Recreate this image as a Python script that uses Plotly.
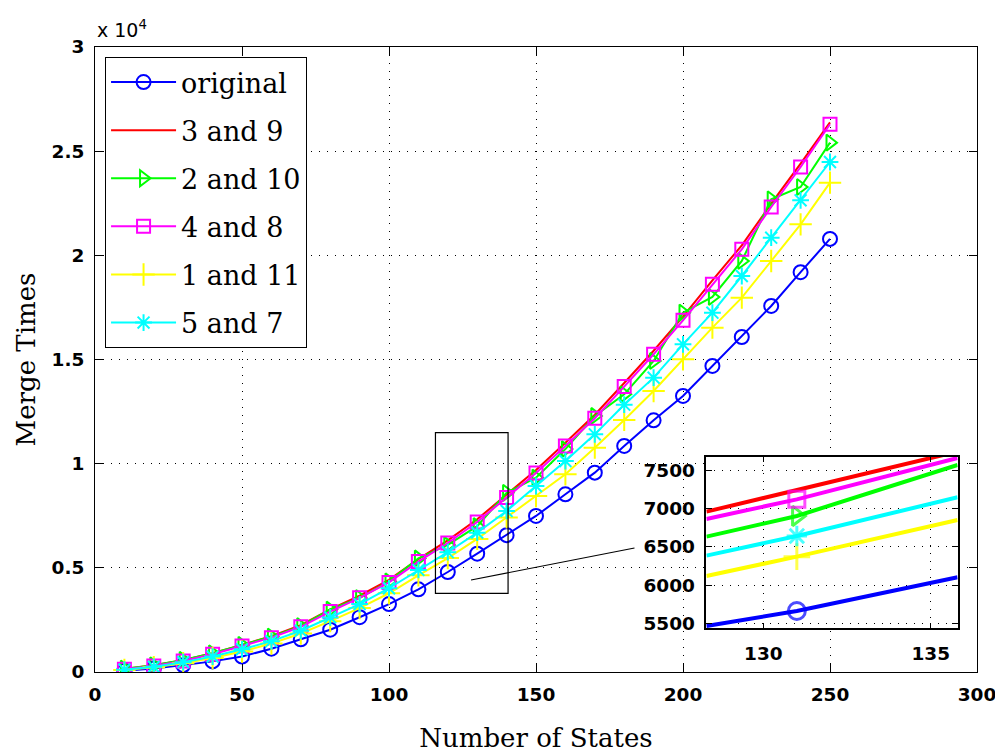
import plotly.graph_objects as go

# ---------------- data ----------------
states = [10, 20, 30, 40, 50, 60, 70, 80, 90, 100, 110, 120, 130, 140, 150,
          160, 170, 180, 190, 200, 210, 220, 230, 240, 250]

original = [60, 170, 330, 510, 740, 1120, 1570, 2030, 2630, 3260, 3970, 4800, 5680,
            6570, 7490, 8530, 9570, 10850, 12080, 13250, 14690, 16080, 17570, 19190, 20790]
s3_9 = [150, 320, 570, 900, 1300, 1720, 2250, 3000, 3670, 4420, 5420, 6320, 7330,
        8520, 9700, 11000, 12350, 13870, 15420, 17060, 18800, 20480, 22480, 24400, 26380]
s2_10 = [160, 320, 580, 900, 1300, 1700, 2200, 3000, 3550, 4350, 5450, 6100, 7000,
         8600, 9330, 10700, 12290, 13330, 14930, 17250, 18000, 19730, 22690, 23280, 25410]
s4_8 = [130, 290, 530, 850, 1250, 1650, 2170, 2900, 3560, 4300, 5300, 6190, 7200,
        8380, 9550, 10850, 12180, 13700, 15250, 16880, 18610, 20290, 22320, 24240, 26290]
s1_11 = [95, 225, 420, 670, 980, 1370, 1850, 2440, 3070, 3780, 4640, 5470, 6390,
         7420, 8448, 9488, 10768, 12100, 13488, 15008, 16528, 17968, 19728, 21488, 23488]
s5_7 = [110, 250, 470, 740, 1090, 1480, 1980, 2620, 3260, 4020, 4900, 5750, 6690,
        7730, 8928, 10128, 11408, 12830, 14128, 15728, 17248, 19008, 20848, 22640, 24480]

names = ["original", "3 and 9", "2 and 10", "4 and 8", "1 and 11", "5 and 7"]
series = [original, s3_9, s2_10, s4_8, s1_11, s5_7]

y_tickvals = [0, 5000, 10000, 15000, 20000, 25000, 30000]
y_ticktext = ["0", "0.5", "1", "1.5", "2", "2.5", "3"]
x_tickvals = [0, 50, 100, 150, 200, 250, 300]

# zoomed inset
inset_x = [128.3, 131, 135.8]
inset_original = [5465, 5661, 6103]
inset_3_9 = [6963, 7247, 7750]
inset_2_10 = [6635, 6906, 7574]
inset_4_8 = [6867, 7124, 7665]
inset_1_11 = [6120, 6373, 6854]
inset_5_7 = [6386, 6644, 7151]
inset_series = [inset_original, inset_3_9, inset_2_10, inset_4_8, inset_1_11, inset_5_7]
inset_yticks = [5500, 6000, 6500, 7000, 7500]
inset_xticks = [130, 135]

# ---------------- styles ----------------
colors = ["#0000FF", "#FF0000", "#00FF00", "#FF00FF", "#FFFF00", "#00FFFF"]
symbols = ["circle-open", None, "triangle-right-open", "square-open",
           "cross-thin-open", "asterisk-open"]
sizes = [14, 0, 14, 13, 16, 14]

fig = go.Figure()

for name, ys, c, sym, sz in zip(names, series, colors, symbols, sizes):
    mode = "lines" if sym is None else "lines+markers"
    marker = dict(color=c, size=sz, line=dict(color=c, width=2))
    if sym is not None:
        marker["symbol"] = sym
    fig.add_trace(go.Scatter(
        x=states, y=ys, name=name, mode=mode, legendgroup=name,
        line=dict(color=c, width=2), marker=marker,
        xaxis="x", yaxis="y"))

for name, ys, c, sym, sz in zip(names, inset_series, colors, symbols, sizes):
    mode = "lines" if sym is None else "lines+markers"
    marker = dict(color=c, size=[0, sz + 3, 0], line=dict(color=c, width=3))
    if sym is not None:
        marker["symbol"] = sym
    fig.add_trace(go.Scatter(
        x=inset_x, y=ys, name=name, mode=mode, showlegend=False,
        line=dict(color=c, width=4), marker=marker,
        xaxis="x2", yaxis="y2"))

tickfont = dict(family="DejaVu Sans", size=18.5, color="black", weight="bold")
titlefont = dict(family="DejaVu Serif", size=26, color="black")
grid = dict(showgrid=True, gridcolor="black", gridwidth=1, griddash="1px,7px")

fig.update_layout(
    width=995, height=753,
    margin=dict(l=95, r=18, t=47, b=81, autoexpand=False),
    paper_bgcolor="white", plot_bgcolor="white",
    xaxis=dict(domain=[0, 1], range=[0, 300], tickvals=x_tickvals,
               ticks="inside", ticklen=8, tickcolor="black",
               showline=True, linecolor="black", linewidth=1, mirror="ticks",
               zeroline=False, tickfont=tickfont, ticklabelstandoff=6,
               ticklabeloverflow="allow", automargin=False,
               title=dict(text="Number of States", font=titlefont, standoff=26),
               **grid),
    yaxis=dict(domain=[0, 1], range=[0, 30000], tickvals=y_tickvals,
               ticktext=y_ticktext,
               ticks="inside", ticklen=8, tickcolor="black",
               showline=True, linecolor="black", linewidth=1, mirror="ticks",
               zeroline=False, tickfont=tickfont, ticklabelstandoff=6,
               ticklabeloverflow="allow", automargin=False,
               title=dict(text="Merge Times", font=titlefont, standoff=8),
               **grid),
    xaxis2=dict(domain=[0.6932, 0.978], anchor="y2", range=[128.3, 135.8],
                tickvals=inset_xticks, ticks="inside", ticklen=6, tickcolor="black",
                showline=True, linecolor="black", linewidth=1.5, mirror="ticks",
                zeroline=False, tickfont=tickfont, ticklabelstandoff=8,
                automargin=False, **grid),
    yaxis2=dict(domain=[0.0699, 0.3445], anchor="x2", range=[5434, 7683],
                tickvals=inset_yticks, ticks="inside", ticklen=6, tickcolor="black",
                showline=True, linecolor="black", linewidth=1.5, mirror="ticks",
                zeroline=False, tickfont=tickfont, ticklabelstandoff=6,
                automargin=False, **grid),
    legend=dict(x=0.0114, y=0.984, xanchor="left", yanchor="top",
                bgcolor="white", bordercolor="black", borderwidth=1,
                font=dict(family="DejaVu Serif", size=27, color="black"),
                traceorder="grouped", tracegroupgap=10, itemwidth=65),
    showlegend=True,
)

# white background behind the inset
fig.add_shape(type="rect", xref="x2 domain", yref="y2 domain", x0=0, x1=1, y0=0, y1=1,
              fillcolor="white", line=dict(width=0), layer="below")
# zoom rectangle and connector on the main axes
fig.add_shape(type="rect", xref="x", yref="y", x0=115.8, x1=140.5, y0=3778, y1=11486,
              line=dict(color="black", width=1.2))
fig.add_shape(type="line", xref="x", yref="y", x0=127.9, y0=4416, x1=183.5, y1=5952,
              line=dict(color="black", width=1.2))

fig.add_annotation(text="x 10<sup>4</sup>", xref="paper", yref="paper",
                   x=0.0, y=1.0, xanchor="left", yanchor="bottom", yshift=4,
                   showarrow=False, font=dict(family="DejaVu Sans", size=19, color="black"))

fig.write_html("out.html")
